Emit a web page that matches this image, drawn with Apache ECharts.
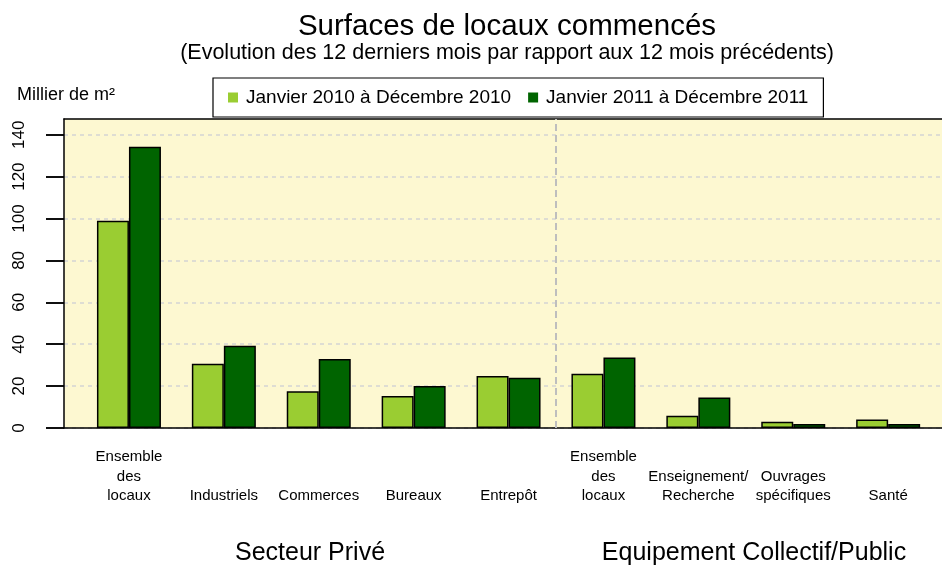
<!DOCTYPE html>
<html>
<head>
<meta charset="utf-8">
<script src="https://cdn.jsdelivr.net/npm/echarts@6/dist/echarts.min.js"></script>
<style>html,body{margin:0;padding:0;background:#fff}#c{width:942px;height:565px}</style>
</head>
<body>
<div id="c"></div>
<script>
var categories = ["Ensemble\ndes\nlocaux", "Industriels", "Commerces", "Bureaux", "Entrepôt", "Ensemble\ndes\nlocaux", "Enseignement/\nRecherche", "Ouvrages\nspécifiques", "Santé"];
var series2010 = [98.9, 30.7, 17.5, 15.3, 24.8, 25.9, 5.9, 3.0, 4.0];
var series2011 = [134.3, 39.3, 32.9, 20.0, 24.0, 33.6, 14.5, 1.9, 1.9];
var seriesNames = ["Janvier 2010 à Décembre 2010", "Janvier 2011 à Décembre 2011"];
var yTicks = [0, 20, 40, 60, 80, 100, 120, 140];
var groupLabels = ["Secteur Privé", "Equipement Collectif/Public"];
var separatorAt = [4.5];  // between category 5 (private) and 6 (public)
var titleText = "Surfaces de locaux commencés";
var subtitleText = "(Evolution des 12 derniers mois par rapport aux 12 mois précédents)";
var unitText = "Millier de m²";

var FONT = "'Liberation Sans', Arial, sans-serif";
var YMAX = 147.5;
var TICKMAX = yTicks[yTicks.length - 1];
var PLOT_TOP = 119, PLOT_BOTTOM = 428;
var tickTop = PLOT_BOTTOM - TICKMAX * (PLOT_BOTTOM - PLOT_TOP) / YMAX;

var chart = echarts.init(document.getElementById('c'), null, {renderer: 'canvas'});
chart.setOption({
  animation: false,
  backgroundColor: '#ffffff',
  textStyle: {fontFamily: FONT},
  title: [
    {text: titleText, left: 507, top: 27, textAlign: 'center', textVerticalAlign: 'middle', padding: 0,
     textStyle: {fontSize: 29.5, fontWeight: 'normal', color: '#000', fontFamily: FONT}},
    {text: subtitleText, left: 507, top: 53, textAlign: 'center', textVerticalAlign: 'middle', padding: 0,
     textStyle: {fontSize: 21.5, fontWeight: 'normal', color: '#000', fontFamily: FONT}},
    {text: unitText, left: 17, top: 95, textAlign: 'left', textVerticalAlign: 'middle', padding: 0,
     textStyle: {fontSize: 18, fontWeight: 'normal', color: '#000', fontFamily: FONT}},
    {text: groupLabels[0], left: 310, top: 553, textAlign: 'center', textVerticalAlign: 'middle', padding: 0,
     textStyle: {fontSize: 25, fontWeight: 'normal', color: '#000', fontFamily: FONT}},
    {text: groupLabels[1], left: 754, top: 553, textAlign: 'center', textVerticalAlign: 'middle', padding: 0,
     textStyle: {fontSize: 25, fontWeight: 'normal', color: '#000', fontFamily: FONT}}
  ],
  legend: {
    left: 213, top: 78,
    orient: 'horizontal',
    padding: [10, 15, 10, 15],
    itemWidth: 10, itemHeight: 10, itemGap: 17,
    icon: 'rect',
    borderColor: '#000', borderWidth: 1.2,
    backgroundColor: '#fff',
    itemStyle: {borderWidth: 0},
    textStyle: {fontSize: 19, color: '#000', fontFamily: FONT, padding: [0, 0, 0, 3]},
    data: seriesNames
  },
  grid: [
    {left: 64, right: 0, top: PLOT_TOP, bottom: 565 - PLOT_BOTTOM, show: true, backgroundColor: '#FDF8D1', borderWidth: 0, outerBoundsMode: 'none'},
    {left: 81.5, right: 6.4, top: PLOT_TOP, bottom: 565 - PLOT_BOTTOM, outerBoundsMode: 'none'},
    {left: 46, width: 18, top: tickTop, bottom: 565 - PLOT_BOTTOM, show: true, backgroundColor: '#ffffff', borderWidth: 0, outerBoundsMode: 'none'}
  ],
  xAxis: [
    {gridIndex: 0, type: 'value', position: 'top', min: -0.684, max: 8.568,
     axisLine: {show: true, onZero: false, lineStyle: {color: '#000', width: 1.5}}, axisTick: {show: false},
     axisLabel: {show: false}, splitLine: {show: false}},
    {gridIndex: 0, type: 'value', position: 'bottom', min: -0.684, max: 8.568,
     axisLine: {show: true, onZero: false, lineStyle: {color: '#000', width: 1.5}}, axisTick: {show: false},
     axisLabel: {show: false}, splitLine: {show: false}},
    {gridIndex: 1, type: 'category', data: categories, position: 'bottom',
     axisLine: {show: false, onZero: false}, axisTick: {show: false}, splitLine: {show: false},
     axisLabel: {interval: 0, fontSize: 15, lineHeight: 19.5, color: '#000', fontFamily: FONT,
       margin: 78, verticalAlign: 'bottom', align: 'center', hideOverlap: false}},
    {gridIndex: 2, type: 'value', min: 0, max: 1, show: false}
  ],
  yAxis: [
    {gridIndex: 0, type: 'value', position: 'left', min: 0, max: YMAX, interval: 20,
     axisLine: {show: true, onZero: false, lineStyle: {color: '#000', width: 1.5}},
     axisTick: {show: true, length: 18, inside: false, customValues: yTicks, lineStyle: {color: '#000000', width: 1.5}},
     axisLabel: {show: true, rotate: 90, margin: 36, fontSize: 17, color: '#000', fontFamily: FONT, customValues: yTicks},
     splitLine: {show: true, lineStyle: {color: '#D3D3D3', width: 1.5, type: [4, 4]}}},
    {gridIndex: 1, type: 'value', min: 0, max: YMAX, show: false, splitLine: {show: false}},
    {gridIndex: 2, type: 'value', min: 0, max: TICKMAX, interval: 20,
     axisLine: {show: false}, axisTick: {show: false}, axisLabel: {show: false},
     splitLine: {show: true, lineStyle: {color: '#000', width: 1.5, type: 'solid'}}}
  ],
  series: [
    {name: 'separator', type: 'line', xAxisIndex: 0, yAxisIndex: 0, data: [], silent: true,
     markLine: {silent: true, symbol: 'none', label: {show: false},
       lineStyle: {color: '#BEBEBE', width: 2, type: [7, 4]},
       data: separatorAt.map(function (v) { return {xAxis: v}; })}},
    {name: seriesNames[0], type: 'bar', xAxisIndex: 2, yAxisIndex: 1, data: series2010,
     barWidth: 32, barGap: '0%',
     itemStyle: {color: '#9ACD32', borderColor: '#000', borderWidth: 1.5}},
    {name: seriesNames[1], type: 'bar', xAxisIndex: 2, yAxisIndex: 1, data: series2011,
     barWidth: 32, barGap: '0%',
     itemStyle: {color: '#006400', borderColor: '#000', borderWidth: 1.5}}
  ]
});
</script>
</body>
</html>
